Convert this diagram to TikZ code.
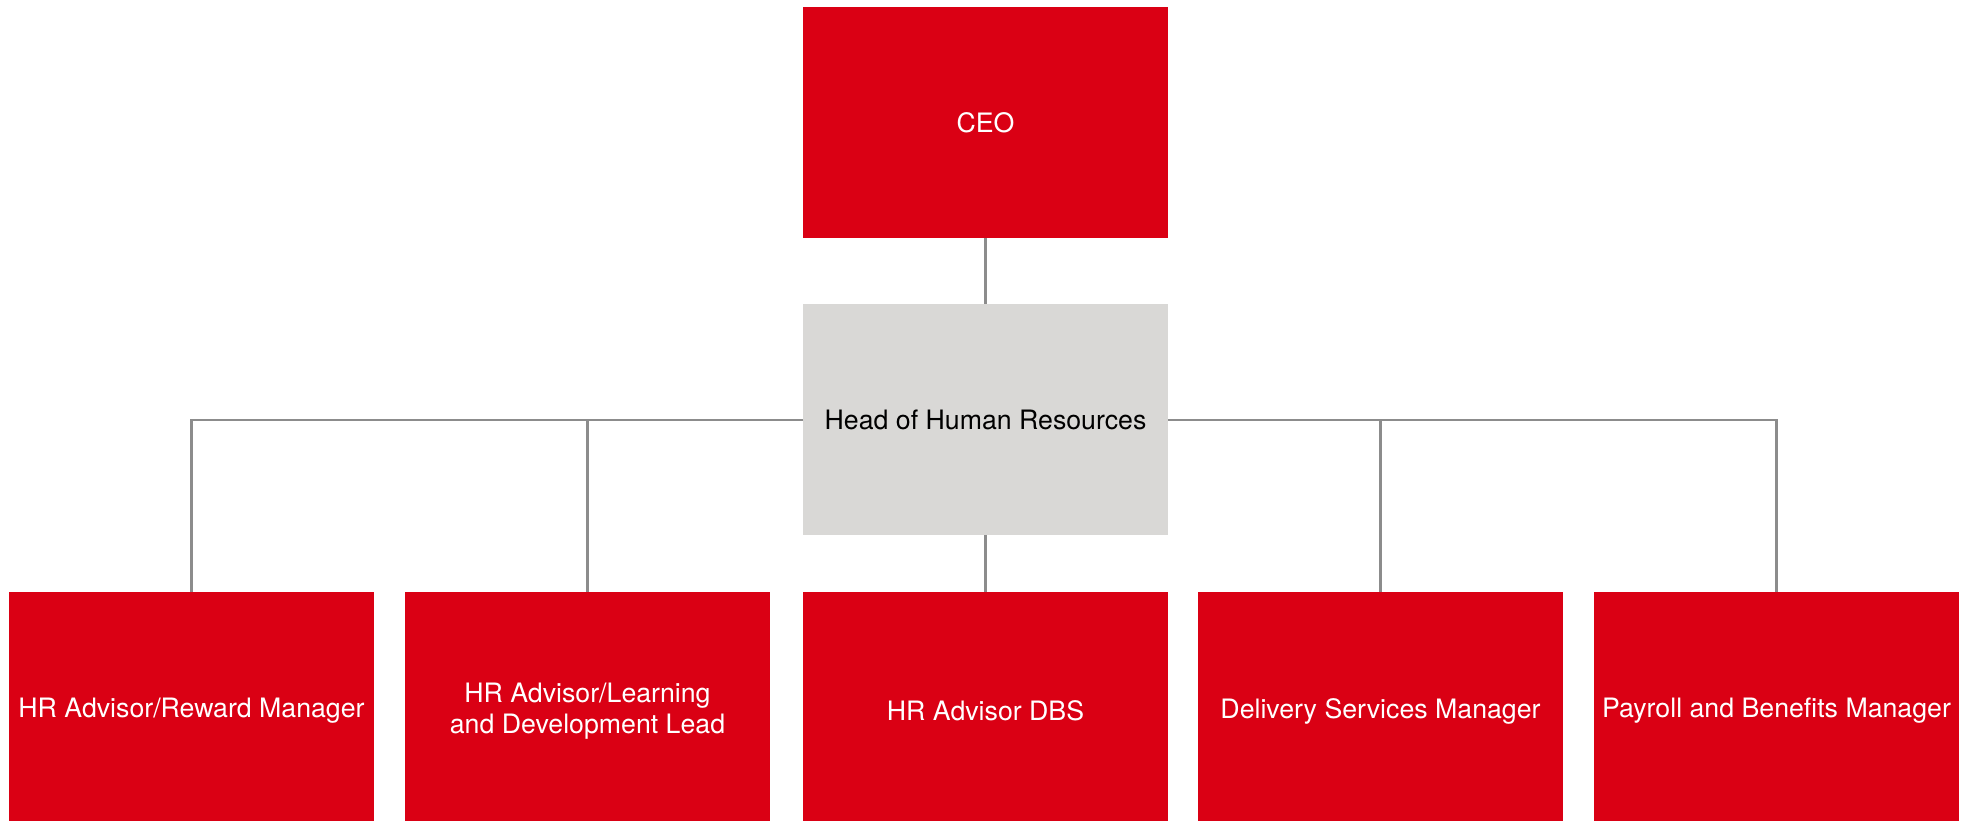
\documentclass[tikz,border=0pt]{standalone}
\usepackage{fontspec}
\setmainfont{TeX Gyre Heros}
\usepackage{tikz}
\definecolor{hrred}{RGB}{218,0,20}
\definecolor{hrgrey}{RGB}{217,216,214}
\definecolor{linegrey}{RGB}{140,140,140}

\begin{document}
\begin{tikzpicture}[red/.style={rectangle, fill=hrred, text=white, minimum width=3.65cm, minimum height=2.31cm, inner sep=0pt, outer sep=0pt, align=center, font=\fontsize{7.6pt}{8.9pt}\selectfont}, head/.style={red, fill=hrgrey, text=black}, low/.style={red, minimum height=2.38cm}, l/.style={draw=linegrey, line width=0.65pt}]
            \useasboundingbox (0,0) rectangle (19.7,8.2);
            % nodes
            \node[red] (ceo) at (9.855,6.975) {CEO};
            \node[head] (hr) at (9.855,4.0) {Head of Human Resources};
            \node[low] (reward) at (1.915,1.09) {HR Advisor/Reward Manager};
            \node[low] (learn) at (5.875,1.09) {HR Advisor/Learning\\and Development Lead};
            \node[low] (dbs) at (9.855,1.09) {HR Advisor DBS};
            \node[low] (deliv) at (13.805,1.09) {Delivery Services Manager};
            \node[low] (pay) at (17.765,1.09) {Payroll and Benefits Manager};
            % edges
            \draw [l] (ceo) -- (hr);
            \draw [l] (hr) -- (dbs);
            \draw [l] (hr.west) -| (reward.north);
            \draw [l] (hr.west) -| (learn.north);
            \draw [l] (hr.east) -| (deliv.north);
            \draw [l] (hr.east) -| (pay.north);
        \end{tikzpicture}
\end{document}
